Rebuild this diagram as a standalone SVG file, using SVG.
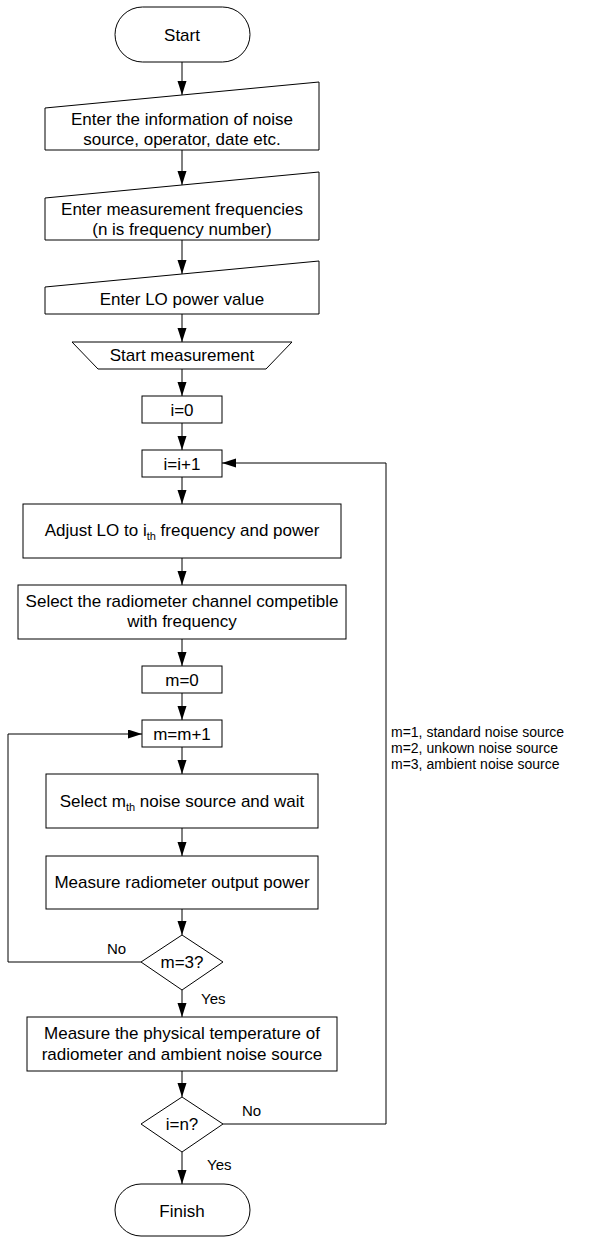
<svg xmlns="http://www.w3.org/2000/svg" width="590" height="1237" viewBox="0 0 590 1237">
<defs>
<marker id="ah" markerUnits="userSpaceOnUse" markerWidth="14" markerHeight="10" refX="14" refY="4.5" orient="auto">
<path d="M0,0 L14,4.5 L0,9 z" fill="#000"/>
</marker>
<style>
.s{fill:#fff;stroke:#000;stroke-width:1}
.t{font-family:"Liberation Sans",Arial,sans-serif;font-size:17px;fill:#000;text-anchor:middle}
.l{font-family:"Liberation Sans",Arial,sans-serif;font-size:15px;fill:#000}
.n{font-family:"Liberation Sans",Arial,sans-serif;font-size:14px;fill:#000}
.c{fill:none;stroke:#000;stroke-width:1;marker-end:url(#ah)}
.sub{font-size:11px}
</style>
</defs>
<g id="connectors">
<line class="c" x1="182" y1="62" x2="182" y2="95"/>
<line class="c" x1="182" y1="150" x2="182" y2="185"/>
<line class="c" x1="182" y1="240" x2="182" y2="274"/>
<line class="c" x1="182" y1="314" x2="182" y2="342"/>
<line class="c" x1="182" y1="369" x2="182" y2="396"/>
<line class="c" x1="182" y1="423" x2="182" y2="450"/>
<line class="c" x1="182" y1="477" x2="182" y2="504"/>
<line class="c" x1="182" y1="558" x2="182" y2="585"/>
<line class="c" x1="182" y1="639" x2="182" y2="666"/>
<line class="c" x1="182" y1="693" x2="182" y2="720"/>
<line class="c" x1="182" y1="747" x2="182" y2="774"/>
<line class="c" x1="182" y1="828" x2="182" y2="856"/>
<line class="c" x1="182" y1="909" x2="182" y2="935"/>
<line class="c" x1="182" y1="990" x2="182" y2="1017"/>
<line class="c" x1="182" y1="1071" x2="182" y2="1097"/>
<line class="c" x1="182" y1="1152" x2="182" y2="1184"/>
<polyline class="c" points="141,962 8,962 8,734 142,734"/>
<polyline class="c" points="223,1124 386,1124 386,463 222,463"/>
<text class="l" x="107" y="954">No</text>
<text class="l" x="201" y="1004">Yes</text>
<text class="l" x="242" y="1116">No</text>
<text class="l" x="207" y="1170">Yes</text>
</g>
<g id="start">
<rect class="s" x="115" y="7" width="135" height="55" rx="27.5" ry="27.5"/>
<text class="t" x="182" y="40.5">Start</text>
</g>
<g id="enter-info">
<polygon class="s" points="45,108 319,82 319,150 45,150"/>
<text class="t" x="182" y="125">Enter the information of noise</text>
<text class="t" x="182" y="145">source, operator, date etc.</text>
</g>
<g id="enter-freq">
<polygon class="s" points="45,198 319,172 319,240 45,240"/>
<text class="t" x="182" y="215">Enter measurement frequencies</text>
<text class="t" x="182" y="235">(n is frequency number)</text>
</g>
<g id="enter-lo">
<polygon class="s" points="45,287 319,261 319,314 45,314"/>
<text class="t" x="182" y="305">Enter LO power value</text>
</g>
<g id="start-measurement">
<polygon class="s" points="72,342 292,342 266,369 98,369"/>
<text class="t" x="182" y="361">Start measurement</text>
</g>
<g id="i0">
<rect class="s" x="142" y="396" width="80" height="27"/>
<text class="t" x="182" y="415.5">i=0</text>
</g>
<g id="iinc">
<rect class="s" x="142" y="450" width="80" height="27"/>
<text class="t" x="182" y="469.5">i=i+1</text>
</g>
<g id="adjust">
<rect class="s" x="23" y="504" width="318" height="54"/>
<text class="t" x="182" y="536">Adjust LO to i<tspan class="sub" dy="4">th</tspan><tspan dy="-4"> frequency and power</tspan></text>
</g>
<g id="select-channel">
<rect class="s" x="18" y="585" width="328" height="54"/>
<text class="t" x="182" y="607">Select the radiometer channel competible</text>
<text class="t" x="182" y="627">with frequency</text>
</g>
<g id="m0">
<rect class="s" x="142" y="666" width="80" height="27"/>
<text class="t" x="182" y="685.5">m=0</text>
</g>
<g id="minc">
<rect class="s" x="142" y="720" width="80" height="27"/>
<text class="t" x="182" y="739.5">m=m+1</text>
</g>
<g id="select-source">
<rect class="s" x="46" y="774" width="272" height="54"/>
<text class="t" x="182" y="807">Select m<tspan class="sub" dy="4">th</tspan><tspan dy="-4"> noise source and wait</tspan></text>
</g>
<g id="measure-power">
<rect class="s" x="46" y="856" width="272" height="53"/>
<text class="t" x="182" y="888">Measure radiometer output power</text>
</g>
<g id="m3">
<polygon class="s" points="182,935 223,962 182,990 141,962"/>
<text class="t" x="182" y="968">m=3?</text>
</g>
<g id="measure-temp">
<rect class="s" x="27" y="1017" width="310" height="54"/>
<text class="t" x="182" y="1039">Measure the physical temperature of</text>
<text class="t" x="182" y="1060">radiometer and ambient noise source</text>
</g>
<g id="in">
<polygon class="s" points="182,1097 223,1124 182,1152 141,1124"/>
<text class="t" x="182" y="1130">i=n?</text>
</g>
<g id="finish">
<rect class="s" x="115" y="1184" width="135" height="52" rx="26" ry="26"/>
<text class="t" x="182" y="1217">Finish</text>
</g>
<g id="note">
<text class="n" x="391" y="737">m=1, standard noise source</text>
<text class="n" x="391" y="753">m=2, unkown noise source</text>
<text class="n" x="391" y="769">m=3, ambient noise source</text>
</g>
</svg>
